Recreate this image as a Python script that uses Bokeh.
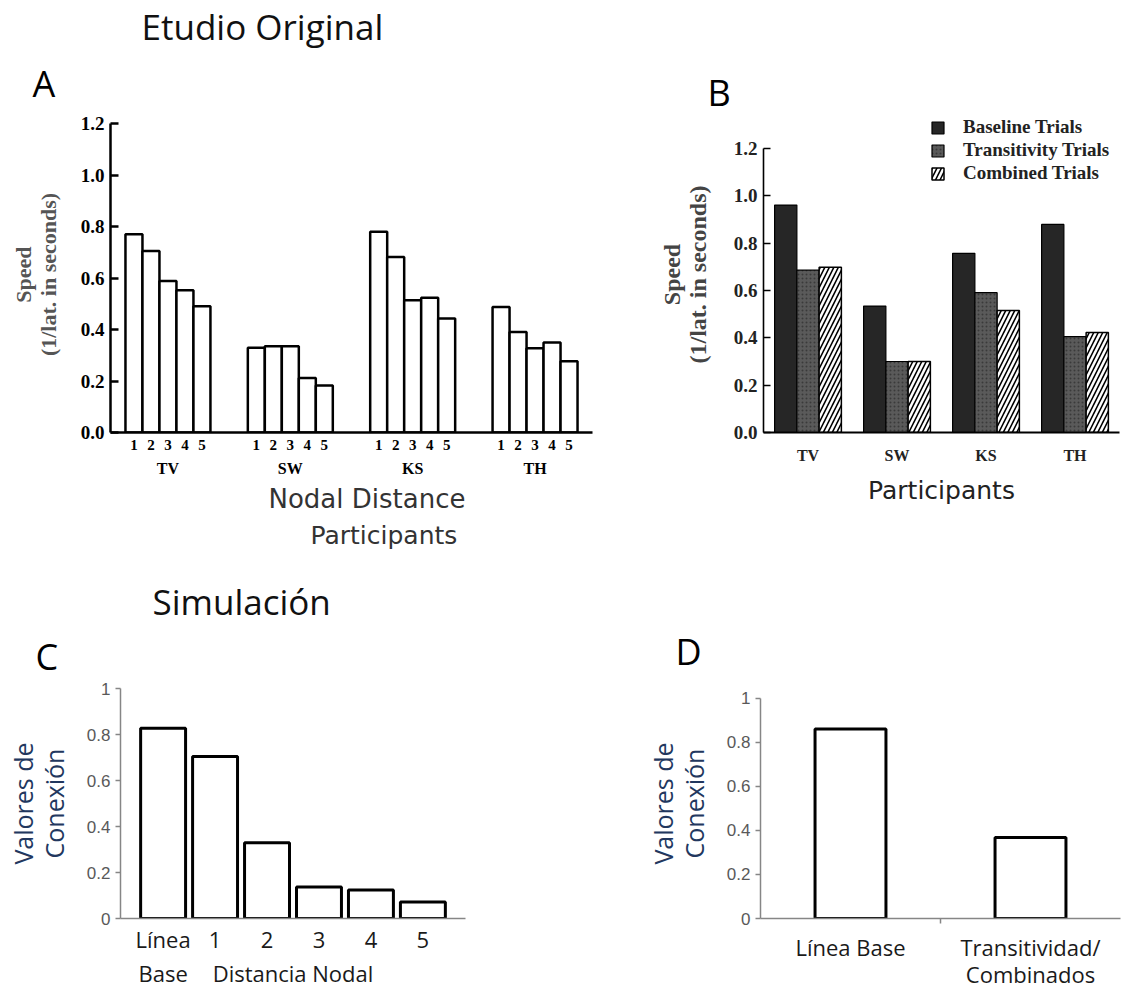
from bokeh.plotting import figure
from bokeh.models import (FactorRange, Range1d, NumeralTickFormatter, Legend,
                          LegendItem, FixedTicker, ColumnDataSource, Title)
from bokeh.transform import dodge
from bokeh.layouts import column, row
from bokeh.embed import file_html
from bokeh.resources import INLINE

# ---------------- data ----------------
# Panel A: speed by nodal distance and participant
a_participants = ["TV", "SW", "KS", "TH"]
a_nodal = ["1", "2", "3", "4", "5"]
a_tv = [0.77, 0.705, 0.588, 0.552, 0.49]
a_sw = [0.329, 0.335, 0.335, 0.212, 0.183]
a_ks = [0.78, 0.682, 0.514, 0.523, 0.443]
a_th = [0.487, 0.39, 0.327, 0.35, 0.277]
a_yticks = [0.0, 0.2, 0.4, 0.6, 0.8, 1.0, 1.2]

# Panel B: speed by trial type
b_participants = ["TV", "SW", "KS", "TH"]
b_baseline = [0.961, 0.534, 0.757, 0.879]
b_transitivity = [0.686, 0.30, 0.591, 0.405]
b_combined = [0.698, 0.30, 0.515, 0.423]
b_series = ["Baseline Trials", "Transitivity Trials", "Combined Trials"]

# Panel C: simulation, connection values by nodal distance
c_labels = ["Línea\nBase", "1", "2", "3", "4", "5"]
c_values = [0.827, 0.704, 0.329, 0.137, 0.124, 0.072]
cd_yticks = [0, 0.2, 0.4, 0.6, 0.8, 1.0]

# Panel D: simulation, baseline vs transitivity/combined
d_labels = ["Línea Base", "Transitividad/\nCombinados"]
d_values = [0.861, 0.368]

SERIF = "Liberation Serif"
SANS_T = "DejaVu Sans"
SANS_C = "Open Sans"
ARIAL = "Liberation Sans"


def base_fig(x_range, y_range, w, h, l, r, t, b):
    p = figure(x_range=x_range, y_range=y_range, width=w, height=h,
               min_border_left=l, min_border_right=r, min_border_top=t,
               min_border_bottom=b, toolbar_location=None, output_backend="svg")
    p.xgrid.visible = False
    p.ygrid.visible = False
    p.outline_line_color = None
    p.background_fill_color = "white"
    p.border_fill_color = "white"
    return p


def add_title(p, place, text, font, size, offset, standoff, color="black",
              align="left", valign="bottom"):
    p.add_layout(Title(text=text, align=align, offset=offset, standoff=standoff,
                       vertical_align=valign,
                       text_font=font, text_font_size=size, text_color=color,
                       text_font_style="normal"), place)


# ---------------- Panel A ----------------
factorsA = [(pp, n) for pp in a_participants for n in a_nodal]
valsA = a_tv + a_sw + a_ks + a_th
xrA = FactorRange(*factorsA, group_padding=2.2, factor_padding=0.0,
                  range_padding=0.0662)
pA = base_fig(xrA, Range1d(0, 1.2272), 640, 560, 110, 48, 116, 128)
srcA = ColumnDataSource(dict(x=factorsA, top=valsA))
pA.vbar(x="x", top="top", width=1.0, source=srcA, fill_color="white",
        line_color="black", line_width=2.5)
ya = pA.yaxis[0]
ya.bounds = (0, 1.2)
ya.ticker = FixedTicker(ticks=a_yticks)
ya.formatter = NumeralTickFormatter(format="0.0")
ya.major_tick_in = 8
ya.major_tick_out = 0
ya.minor_tick_line_color = None
ya.axis_line_width = 2.5
ya.major_tick_line_width = 2.5
ya.major_label_standoff = 6
ya.major_label_text_font = SERIF
ya.major_label_text_font_style = "bold"
ya.major_label_text_font_size = "19px"
ya.major_label_text_color = "black"
ya.axis_label = "Speed\n(1/lat. in seconds)"
ya.axis_label_text_font = SERIF
ya.axis_label_text_font_style = "bold"
ya.axis_label_text_font_size = "22px"
ya.axis_label_text_line_height = 1.0
ya.axis_label_text_color = "#555555"
ya.axis_label_standoff = 17
xa = pA.xaxis[0]
xa.axis_line_width = 2.5
xa.major_tick_line_color = None
xa.major_tick_out = 0
xa.major_tick_in = 0
xa.minor_tick_line_color = None
xa.separator_line_color = None
xa.major_label_standoff = 7
xa.major_label_text_font = SERIF
xa.major_label_text_font_style = "bold"
xa.major_label_text_font_size = "15px"
xa.major_label_text_color = "black"
xa.group_text_font = SERIF
xa.group_text_font_style = "bold"
xa.group_text_font_size = "16px"
xa.group_text_color = "black"
add_title(pA, "below", "Nodal Distance", SANS_T, "26px", 158, 5, "#333333")
add_title(pA, "below", "Participants", SANS_T, "25px", 200, 5, "#333333")
add_title(pA, "above", "A", SANS_C, "36px", -78, 16, valign="middle")
add_title(pA, "above", "Etudio Original", SANS_C, "35px", 31, 0, "#111111")

# ---------------- Panel B ----------------
xrB = FactorRange(*b_participants, range_padding=0)
pB = base_fig(xrB, Range1d(0, 1.3352), 482, 560, 123, 3, 116, 128)
srcB = ColumnDataSource(dict(x=b_participants, base=b_baseline,
                             trans=b_transitivity, comb=b_combined))
rb = pB.vbar(x=dodge("x", -0.25, range=xrB), top="base", width=0.25, source=srcB,
             fill_color="#262626", line_color="black", line_width=1.2)
rt = pB.vbar(x=dodge("x", 0.0, range=xrB), top="trans", width=0.25, source=srcB,
             fill_color="#5a5a5a", hatch_pattern=".", hatch_color="#3a3a3a",
             hatch_scale=4, hatch_weight=1, line_color="black", line_width=1.2)
rc = pB.vbar(x=dodge("x", 0.25, range=xrB), top="comb", width=0.25, source=srcB,
             fill_color="white", hatch_pattern="/", hatch_color="black",
             hatch_scale=9, hatch_weight=1.6, line_color="black", line_width=1.5)
legB = Legend(items=[LegendItem(label=b_series[0], renderers=[rb]),
                     LegendItem(label=b_series[1], renderers=[rt]),
                     LegendItem(label=b_series[2], renderers=[rc])],
              location=(167, 248), border_line_color=None,
              background_fill_alpha=0, padding=0, margin=0, spacing=1,
              glyph_width=15, glyph_height=15, label_standoff=18,
              label_height=15, label_text_font=SERIF,
              label_text_font_style="bold", label_text_font_size="19px",
              label_text_color="#222222")
pB.add_layout(legB)
yb = pB.yaxis[0]
yb.bounds = (0, 1.2)
yb.ticker = FixedTicker(ticks=a_yticks)
yb.formatter = NumeralTickFormatter(format="0.0")
yb.major_tick_in = 7
yb.major_tick_out = 0
yb.minor_tick_line_color = None
yb.axis_line_width = 1.6
yb.major_tick_line_width = 1.6
yb.major_label_standoff = 6
yb.major_label_text_font = SERIF
yb.major_label_text_font_style = "bold"
yb.major_label_text_font_size = "19px"
yb.major_label_text_color = "#222222"
yb.axis_label = "Speed\n(1/lat. in seconds)"
yb.axis_label_text_font = SERIF
yb.axis_label_text_font_style = "bold"
yb.axis_label_text_font_size = "24px"
yb.axis_label_text_line_height = 1.0
yb.axis_label_text_color = "#444444"
yb.axis_label_standoff = 20
xb = pB.xaxis[0]
xb.axis_line_width = 1.8
xb.major_tick_line_color = None
xb.major_tick_out = 0
xb.major_tick_in = 0
xb.minor_tick_line_color = None
xb.major_label_standoff = 14
xb.major_label_text_font = SERIF
xb.major_label_text_font_style = "bold"
xb.major_label_text_font_size = "16px"
xb.major_label_text_color = "#222222"
xb.axis_label = "Participants"
xb.axis_label_text_font = SANS_T
xb.axis_label_text_font_style = "normal"
xb.axis_label_text_font_size = "25px"
xb.axis_label_text_color = "#222222"
xb.axis_label_standoff = 9
add_title(pB, "above", "B", SANS_C, "36px", -56, 0)

# ---------------- Panel C ----------------
xrC = FactorRange(*c_labels, range_padding=0.1067)
pC = base_fig(xrC, Range1d(0, 1), 640, 432, 120, 175, 128, 72)
srcC = ColumnDataSource(dict(x=c_labels, top=c_values))
pC.vbar(x="x", top="top", width=0.865, source=srcC, fill_color="white",
        line_color="black", line_width=3)


def style_sim_y(ax, top):
    ax.bounds = (0, top)
    ax.ticker = FixedTicker(ticks=cd_yticks)
    ax.formatter = NumeralTickFormatter(format="0.[0]")
    ax.major_tick_in = 0
    ax.major_tick_out = 5
    ax.minor_tick_line_color = None
    ax.axis_line_color = "#868686"
    ax.axis_line_width = 1.5
    ax.major_tick_line_color = "#868686"
    ax.major_tick_line_width = 1.5
    ax.major_label_standoff = 5
    ax.major_label_text_font = ARIAL
    ax.major_label_text_font_size = "17px"
    ax.major_label_text_color = "#595959"
    ax.axis_label = "Valores de\nConexión"
    ax.axis_label_text_font = SANS_C
    ax.axis_label_text_font_style = "normal"
    ax.axis_label_text_font_size = "25px"
    ax.axis_label_text_line_height = 0.9
    ax.axis_label_text_color = "#22375e"
    ax.axis_label_standoff = 13


style_sim_y(pC.yaxis[0], 1.0)
xc = pC.xaxis[0]
xc.axis_line_color = "#868686"
xc.axis_line_width = 1.5
xc.major_tick_line_color = None
xc.major_tick_out = 0
xc.major_tick_in = 0
xc.minor_tick_line_color = None
xc.major_label_standoff = 5
xc.major_label_text_font = SANS_C
xc.major_label_text_font_size = "22px"
xc.major_label_text_line_height = 1.15
xc.major_label_text_color = "#1a1a1a"
xc.axis_label = "Distancia Nodal"
xc.axis_label_text_font = SANS_C
xc.axis_label_text_font_style = "normal"
xc.axis_label_text_font_size = "22px"
xc.axis_label_text_color = "#1a1a1a"
xc.axis_label_standoff = -33
add_title(pC, "above", "C", SANS_C, "36px", -85, 13, valign="middle")
add_title(pC, "above", "Simulación", SANS_C, "35px", 32, 0, "#111111")

# ---------------- Panel D ----------------
d_x = [i + 0.5 for i in range(len(d_labels))]
d_bounds = [float(i) for i in range(1, len(d_labels))]
pD = base_fig(Range1d(0, len(d_labels)), Range1d(0, 1.045), 482, 432, 120, 2, 128, 72)
srcD = ColumnDataSource(dict(x=d_x, top=d_values))
pD.vbar(x="x", top="top", width=0.394, source=srcD, fill_color="white",
        line_color="black", line_width=3)
style_sim_y(pD.yaxis[0], 1.0)
xd = pD.xaxis[0]
xd.ticker = FixedTicker(ticks=d_x, minor_ticks=d_bounds)
xd.major_label_overrides = {x: lab for x, lab in zip(d_x, d_labels)}
xd.axis_line_color = "#868686"
xd.axis_line_width = 1.5
xd.major_tick_line_color = None
xd.major_tick_out = 0
xd.major_tick_in = 0
xd.minor_tick_line_color = "#868686"
xd.minor_tick_line_width = 1.5
xd.minor_tick_in = 0
xd.minor_tick_out = 5
xd.major_label_standoff = 8
xd.major_label_text_font = SANS_C
xd.major_label_text_font_size = "22px"
xd.major_label_text_line_height = 0.92
xd.major_label_text_color = "#1a1a1a"
add_title(pD, "above", "D", SANS_C, "36px", -85, 25)

layout = column(row(pA, pB), row(pC, pD))
open("out.html", "w").write(file_html(layout, INLINE))
